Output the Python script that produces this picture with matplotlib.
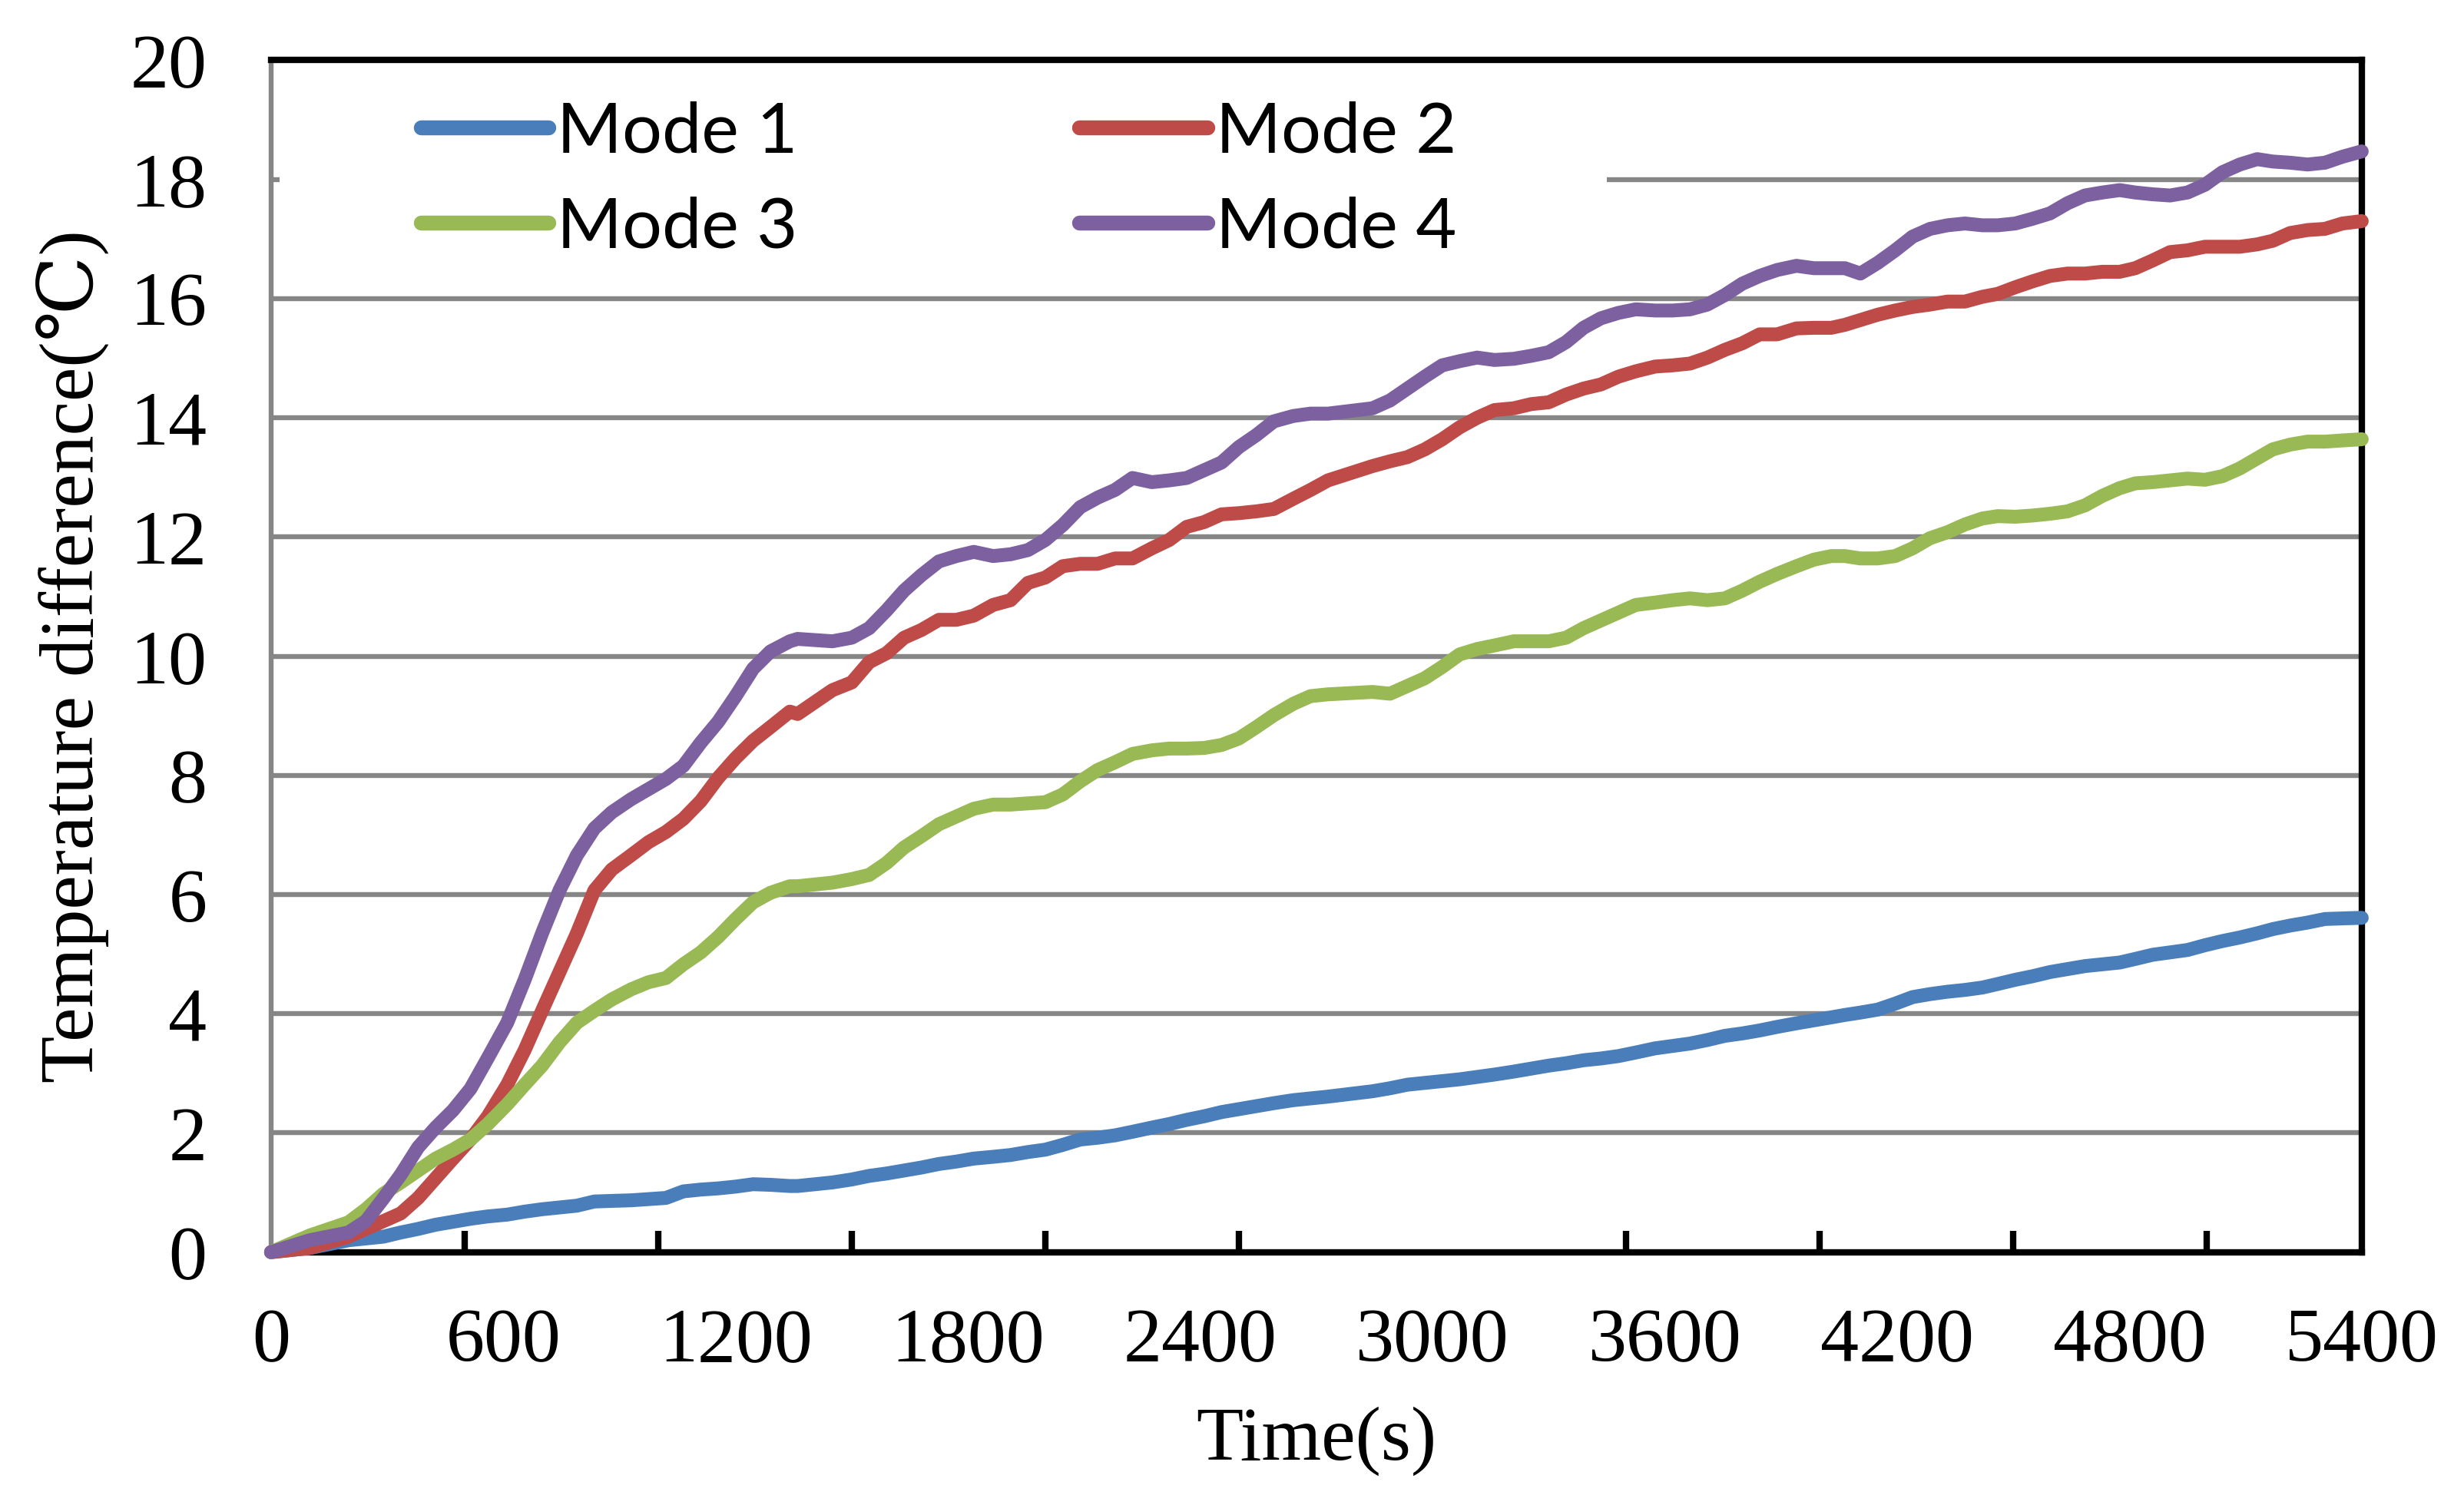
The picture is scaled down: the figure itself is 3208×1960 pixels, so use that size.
import matplotlib
matplotlib.use('Agg')
import matplotlib.pyplot as plt
from matplotlib.patches import Rectangle
from matplotlib.ticker import MultipleLocator

# Time axis (s)
time_s = [0, 100, 200, 245, 290, 335, 380, 425, 470, 515, 560, 610, 655, 700, 745, 790, 835, 880, 930, 975,
          1020, 1065, 1110, 1155, 1200, 1245, 1290, 1340,
          1360, 1450, 1500, 1545, 1590, 1635, 1680, 1725, 1770, 1815, 1865, 1910, 1955, 2000, 2045, 2090,
          2135, 2180, 2225, 2275, 2320, 2365, 2410, 2455, 2500, 2545, 2590, 2640, 2685, 2730,
          2845, 2890, 2935, 2980, 3025, 3070, 3115, 3160, 3210, 3255, 3300, 3345, 3390, 3435, 3480, 3525,
          3575, 3620, 3665, 3710, 3755, 3800, 3845, 3890, 3940, 3985, 4030,
          4065, 4105, 4150, 4195, 4240, 4285, 4330, 4375, 4420, 4460, 4505, 4550, 4595, 4640, 4685, 4730,
          4775, 4815, 4860, 4905, 4950, 4995, 5040, 5085, 5130, 5170, 5215, 5260, 5305, 5350, 5400]

mode1 = [0, 0.07, 0.2, 0.23, 0.26, 0.33, 0.39, 0.46, 0.51, 0.56, 0.6, 0.63, 0.68, 0.72, 0.75, 0.78, 0.85, 0.86, 0.87, 0.89,
         0.91, 1.02, 1.05, 1.07, 1.1, 1.14, 1.13, 1.11,
         1.11, 1.17, 1.22, 1.28, 1.32, 1.37, 1.42, 1.48, 1.52, 1.57, 1.6, 1.63, 1.68, 1.72, 1.8, 1.89,
         1.92, 1.96, 2.02, 2.09, 2.15, 2.22, 2.28, 2.35, 2.4, 2.45, 2.5, 2.55, 2.58, 2.61,
         2.7, 2.75, 2.81, 2.84, 2.87, 2.9, 2.94, 2.98, 3.03, 3.08, 3.13, 3.17, 3.22, 3.25, 3.29, 3.35,
         3.42, 3.46, 3.5, 3.56, 3.63, 3.67, 3.72, 3.78, 3.84, 3.89, 3.94,
         3.98, 4.02, 4.07, 4.17, 4.28, 4.33, 4.37, 4.4, 4.44, 4.5, 4.57, 4.63, 4.7, 4.75, 4.8, 4.83,
         4.86, 4.92, 4.99, 5.03, 5.07, 5.15, 5.22, 5.28, 5.35, 5.42, 5.48, 5.53, 5.59, 5.6, 5.61]

mode2 = [0, 0.07, 0.26, 0.39, 0.52, 0.65, 0.91, 1.24, 1.57, 1.89, 2.28, 2.81, 3.39, 4.05, 4.7, 5.35, 6.07, 6.42, 6.66, 6.88,
         7.05, 7.27, 7.57, 7.96, 8.29, 8.58, 8.81, 9.07,
         9.03, 9.43, 9.56, 9.9, 10.05, 10.31, 10.44, 10.61, 10.61, 10.68, 10.86, 10.94, 11.23, 11.32, 11.51, 11.55,
         11.55, 11.64, 11.64, 11.81, 11.95, 12.17, 12.25, 12.38, 12.4, 12.43, 12.47, 12.64, 12.79, 12.95,
         13.19, 13.27, 13.34, 13.47, 13.64, 13.84, 14.0, 14.13, 14.16, 14.23, 14.26, 14.39, 14.49, 14.56, 14.69, 14.78,
         14.86, 14.88, 14.91, 15.01, 15.14, 15.25, 15.4, 15.4, 15.5, 15.51, 15.51,
         15.56, 15.64, 15.73, 15.8, 15.86, 15.9, 15.95, 15.95, 16.03, 16.08, 16.19, 16.29, 16.38, 16.42, 16.42, 16.45,
         16.45, 16.51, 16.64, 16.78, 16.81, 16.87, 16.87, 16.87, 16.91, 16.97, 17.1, 17.15, 17.17, 17.26, 17.3]

mode3 = [0, 0.28, 0.5, 0.72, 0.98, 1.17, 1.37, 1.57, 1.72, 1.89, 2.15, 2.48, 2.81, 3.13, 3.52, 3.85, 4.05, 4.24, 4.41, 4.53,
         4.6, 4.83, 5.03, 5.29, 5.59, 5.87, 6.03, 6.14,
         6.14, 6.2, 6.26, 6.33, 6.53, 6.79, 6.98, 7.18, 7.31, 7.44, 7.51, 7.51, 7.53, 7.55, 7.68, 7.9,
         8.09, 8.22, 8.36, 8.42, 8.45, 8.45, 8.46, 8.51, 8.62, 8.81, 9.01, 9.2, 9.33, 9.36,
         9.4, 9.37, 9.5, 9.63, 9.82, 10.03, 10.12, 10.18, 10.25, 10.25, 10.25, 10.31, 10.47, 10.6, 10.73, 10.86,
         10.9, 10.94, 10.97, 10.94, 10.97, 11.1, 11.25, 11.38, 11.51, 11.62, 11.68,
         11.68, 11.64, 11.64, 11.68, 11.81, 11.98, 12.08, 12.21, 12.31, 12.35, 12.34, 12.36, 12.39, 12.43, 12.53, 12.69,
         12.82, 12.9, 12.92, 12.95, 12.98, 12.96, 13.02, 13.15, 13.32, 13.47, 13.55, 13.6, 13.6, 13.62, 13.64]

mode4 = [0, 0.2, 0.33, 0.52, 0.9, 1.3, 1.76, 2.09, 2.38, 2.74, 3.26, 3.85, 4.57, 5.35, 6.07, 6.66, 7.11, 7.38, 7.6, 7.77,
         7.94, 8.16, 8.55, 8.9, 9.33, 9.79, 10.08, 10.25,
         10.29, 10.25, 10.31, 10.47, 10.77, 11.1, 11.36, 11.59, 11.68, 11.75, 11.68, 11.71, 11.78, 11.95, 12.2, 12.5,
         12.66, 12.79, 12.99, 12.92, 12.95, 12.99, 13.12, 13.25, 13.51, 13.71, 13.94, 14.03, 14.07, 14.07,
         14.16, 14.29, 14.49, 14.69, 14.88, 14.95, 15.01, 14.97, 14.99, 15.04, 15.1, 15.27, 15.51, 15.67, 15.76, 15.82,
         15.8, 15.8, 15.82, 15.9, 16.06, 16.25, 16.38, 16.48, 16.55, 16.51, 16.51,
         16.51, 16.42, 16.6, 16.81, 17.04, 17.17, 17.23, 17.26, 17.23, 17.23, 17.26, 17.34, 17.43, 17.6, 17.73, 17.78,
         17.82, 17.78, 17.75, 17.73, 17.78, 17.91, 18.12, 18.25, 18.34, 18.3, 18.28, 18.25, 18.28, 18.38, 18.47]

labels = ['Mode 1', 'Mode 2', 'Mode 3', 'Mode 4']
colors = ['#4A7EBB', '#BE4B48', '#98B954', '#7D60A0']
x_ticks = list(range(0, 5401, 600))
y_ticks = list(range(0, 21, 2))

serif = ['Liberation Serif', 'DejaVu Serif']

fig = plt.figure(figsize=(16.04, 9.8), dpi=200)
ax = fig.add_axes([0.110, 0.168, 0.8485, 0.792])

handles = []
for series, lab, col in zip([mode1, mode2, mode3, mode4], labels, colors):
    h, = ax.plot(time_s, series, color=col, lw=6.5, label=lab,
                 solid_capstyle='round', solid_joinstyle='round', clip_on=False, zorder=3)
    handles.append(h)

ax.set_xlim(0, 5400)
ax.set_ylim(0, 20)
ax.set_xticks(x_ticks)
ax.set_yticks(y_ticks)
ax.xaxis.set_minor_locator(MultipleLocator(500))
ax.tick_params(axis='x', which='major', length=0, pad=26, labelsize=36)
ax.tick_params(axis='x', which='minor', direction='in', length=10, width=3, color='black')
ax.tick_params(axis='y', which='major', length=0, pad=30, labelsize=36)
for lbl in ax.get_xticklabels() + ax.get_yticklabels():
    lbl.set_family(serif)

ax.set_axisbelow(True)
ax.yaxis.grid(True, color='#868686', lw=2.3)

for side in ['top', 'right', 'bottom']:
    ax.spines[side].set_color('black')
    ax.spines[side].set_linewidth(3)
ax.spines['left'].set_color('#868686')
ax.spines['left'].set_linewidth(2.3)

# white area behind the legend hides part of the 18 grid line
ax.add_patch(Rectangle((0.004, 0.83), 0.635, 0.168, transform=ax.transAxes,
                       facecolor='white', edgecolor='none', zorder=1))

leg = ax.legend([handles[0], handles[2], handles[1], handles[3]],
                [labels[0], labels[2], labels[1], labels[3]],
                ncol=2, loc='upper left', bbox_to_anchor=(0.0715, 0.966),
                frameon=False, borderpad=0, borderaxespad=0,
                handlelength=1.82, handletextpad=0.12, columnspacing=4.0,
                labelspacing=0.45, prop={'family': 'Lato', 'size': 33})
for line in leg.get_lines():
    line.set_linewidth(7)
    line.set_solid_capstyle('round')

ax.set_xlabel('Time(s)', family=serif, fontsize=36, labelpad=14)
ax.set_ylabel('Temperature difference(℃)', family=serif, fontsize=36, labelpad=10)

fig.savefig('out.png', dpi=200)
